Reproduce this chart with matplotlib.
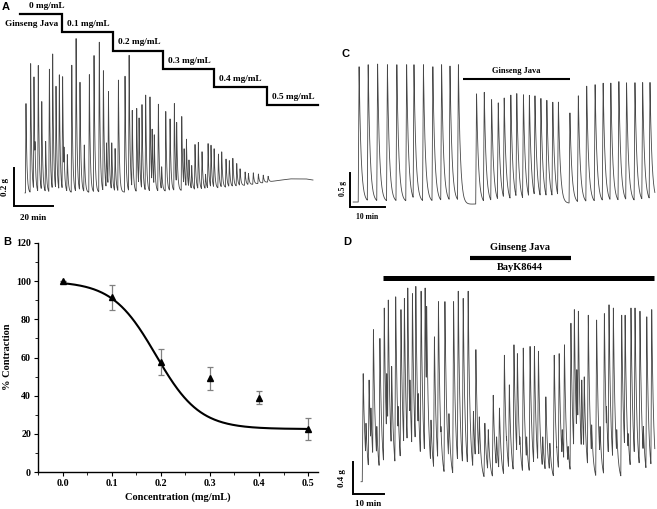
import numpy as np
import matplotlib
matplotlib.use("Agg")
import matplotlib.pyplot as plt
from matplotlib.ticker import MultipleLocator

# ---------------- data ----------------
# Panel A: spike times (min) and amplitudes (g)
A_times = [0.5, 2.9, 4.6, 5.1, 6.8, 8.6, 10.6, 12.5, 14.2, 15.9, 17.6, 19.3, 20.0, 21.7,
           24.0, 26.2, 28.2, 30.4, 33.0, 35.4, 38.1, 40.2, 41.8, 42.8, 44.5, 46.2, 47.9,
           51.3, 53.4, 55.0, 57.3, 58.5, 60.0, 61.9, 64.1, 65.2, 66.3, 68.4, 70.1, 72.2,
           74.4, 76.6, 77.8, 80.4, 81.6, 82.8, 84.1, 85.5, 87.2, 88.9,
           90.8, 92.6, 93.9, 95.4, 97.0, 99.2, 100.9, 103.1, 104.8, 106.6, 108.6, 110.3,
           112.9, 114.6, 117.1, 119.7, 122.2, 124.7]
A_heights = [0.47, 0.68, 0.61, 0.27, 0.67, 0.48, 0.27, 0.65, 0.73, 0.56, 0.62, 0.61, 0.24, 0.20,
             0.67, 0.81, 0.58, 0.25, 0.62, 0.72, 0.79, 0.64, 0.26, 0.53, 0.26, 0.23, 0.59,
             0.61, 0.72, 0.43, 0.44, 0.39, 0.46, 0.51, 0.50, 0.33, 0.30, 0.46, 0.13, 0.42,
             0.38, 0.46, 0.36, 0.39, 0.22, 0.27, 0.16, 0.13, 0.24, 0.25,
             0.20, 0.08, 0.24, 0.23, 0.21, 0.18, 0.19, 0.15, 0.14, 0.15, 0.12, 0.09,
             0.07, 0.06, 0.06, 0.05, 0.04, 0.03]
A_base_t = [0, 64, 90, 105, 118, 128, 136, 144, 147.7]
A_base_v = [0, 0.005, 0.016, 0.03, 0.047, 0.063, 0.074, 0.074, 0.068]
A_doses = ["0 mg/mL", "0.1 mg/mL", "0.2 mg/mL", "0.3 mg/mL", "0.4 mg/mL", "0.5 mg/mL"]
A_dose_times = [-2.6, 19.0, 45.1, 70.8, 97.0, 124.1, 150.3]

# Panel B: concentration-response
B_conc = [0.0, 0.1, 0.2, 0.3, 0.4, 0.5]
B_resp = [100, 91.5, 57.5, 49, 39, 22.5]
B_err = [0, 6.5, 6.75, 6, 3.25, 5.75]
B_fit_top, B_fit_bottom, B_fit_x0, B_fit_slope = 100.0, 22.5, 0.19, 0.0444

# Panel C
C_times = [2.6, 5.2, 7.9, 10.7, 13.4, 16.2, 18.3, 21.0, 23.7, 26.2, 28.6, 31.0,
           36.2, 38.4, 40.5, 42.4, 44.1, 46.0, 47.7, 49.6, 51.3, 52.9, 54.6, 56.3, 58.0, 59.6,
           62.9, 65.3, 67.7, 70.1, 72.4, 74.6, 76.9, 79.1, 81.5, 83.7, 85.8]
C_heights = [1.99, 2.02, 2.03, 2.02, 2.02, 2.02, 2.02, 2.02, 1.99, 2.02, 2.00, 2.02,
             1.62, 1.64, 1.53, 1.48, 1.55, 1.59, 1.61, 1.59, 1.58, 1.57, 1.53, 1.50, 1.47, 1.47,
             1.33, 1.58, 1.72, 1.74, 1.76, 1.76, 1.78, 1.76, 1.76, 1.76, 1.76]
C_base_t = [0.9, 31.0, 32.5, 35.5, 59.6, 61.0, 62.5, 87.2]
C_base_v = [0, 0, -0.04, -0.03, 0, -0.03, -0.02, 0]
C_ginseng = [32.3, 62.9]

# Panel D
D_times = [3.3, 4.2, 5.2, 5.8, 6.6, 7.7, 8.7, 10.1, 10.9, 11.4, 12.5, 13.8, 14.6, 15.5,
           16.6, 17.7, 18.4, 19.2, 20.3, 21.1, 22.0, 23.3, 23.8, 25.2, 26.3, 27.6, 28.4,
           29.7, 31.0, 32.5,
           34.0, 35.6, 37.2, 38.9, 39.7, 40.8, 42.6, 43.7, 45.3, 46.4, 47.3, 48.9, 49.6,
           50.5, 52.0, 53.1, 53.9, 55.0, 56.1, 57.2, 58.6, 59.9, 61.3, 62.3,
           63.6, 65.0, 65.8, 66.6, 67.6, 68.3, 69.5, 70.4, 71.5, 72.3, 72.8, 73.9, 74.7,
           76.0, 77.1, 78.7, 79.8, 81.2, 81.9, 82.7, 84.1, 85.2, 86.8, 87.9, 88.9, 89.8,
           91.1, 92.7, 93.8, 94.9, 96.5]
D_heights = [1.35, 0.73, 1.27, 0.92, 1.90, 0.69, 1.79, 2.17, 1.35, 2.27, 1.44, 2.31, 0.94, 2.15,
             2.29, 2.42, 1.27, 2.35, 2.44, 1.10, 2.38, 2.42, 2.19, 0.77, 1.81, 2.25, 0.69,
             2.25, 0.85, 2.25,
             2.38, 2.29, 2.38, 0.88, 1.65, 0.81, 0.73, 0.65, 1.08, 0.56, 0.92, 1.58, 0.56,
             1.21, 1.71, 1.60, 0.56, 1.67, 0.56, 1.69, 1.69, 1.63, 0.56, 1.06,
             0.48, 1.58, 0.44, 1.60, 0.65, 1.71, 0.44, 1.98, 2.15, 1.40, 2.13, 1.27, 1.31,
             2.08, 0.71, 2.02, 0.69, 2.10, 0.94, 2.21, 2.17, 0.65, 2.08, 2.08, 0.60, 2.17,
             2.17, 2.13, 0.69, 2.06, 2.15]
D_ginseng = [37.8, 70.4]
D_bayk = [9.7, 97.2]

# ---------------- helpers ----------------
W, H = 657, 509
fig = plt.figure(figsize=(W / 100, H / 100), dpi=100)
SERIF = ["Liberation Serif", "DejaVu Serif"]
SANS = ["Liberation Sans", "DejaVu Sans"]
TR = "#474747"


def fax(x0, y0, x1, y1):
    """axes from pixel box (left, top, right, bottom)"""
    return fig.add_axes([x0 / W, 1 - y1 / H, (x1 - x0) / W, (y1 - y0) / H])


def ftext(x, y, s, **kw):
    fig.text(x / W, 1 - y / H, s, **kw)


def trace(times, heights, t0, t1, bt, bv, rise, tau, dt=0.01):
    t = np.arange(t0, t1, dt)
    env = np.zeros_like(t)
    for ti, hi in zip(times, heights):
        d = t - ti
        p = np.zeros_like(t)
        up = (d < 0) & (d > -rise)
        p[up] = 1 + d[up] / rise
        dn = d >= 0
        p[dn] = np.exp(-d[dn] / tau)
        env = np.maximum(env, hi * p)
    return t, np.interp(t, bt, bv) + env


def scalebar(ax, x, y, dx, dy):
    ax.plot([x, x, x + dx], [y + dy, y, y], color="black", lw=1.4,
            solid_joinstyle="miter", clip_on=False)


# ---------------- Panel A ----------------
axA = fax(10, 0, 320, 215)
axA.set_xlim(-7.7, 151.3)
axA.set_ylim(-0.116, 1.015)
axA.axis("off")
t, y = trace(A_times, A_heights, 0, 147.7, A_base_t, A_base_v, 0.3, 0.45)
axA.plot(t, y, color=TR, lw=0.6)
scalebar(axA, -5.6, -0.068, 20, 0.2)
step_top, step_dy = 0.94, 0.0955
sx, sy = [], []
for i in range(len(A_doses)):
    lev = step_top - i * step_dy
    sx += [A_dose_times[i], A_dose_times[i + 1]]
    sy += [lev, lev]
axA.plot(sx, sy, color="black", lw=1.6, solid_joinstyle="miter", clip_on=False)
for i, lab in enumerate(A_doses):
    lev = step_top - i * step_dy
    xx = 0.0 if i == 0 else A_dose_times[i]
    axA.annotate(lab, (xx, lev), xytext=(3.5 if i else 3, 3), textcoords="offset points",
                 fontsize=6.7, fontweight="bold", family=SERIF, ha="left", va="bottom")
axA.annotate("Ginseng Java", (A_dose_times[1], step_top), xytext=(-3, -4),
             textcoords="offset points", fontsize=6.7, fontweight="bold",
             family=SERIF, ha="right", va="top")
ftext(5, 187, "0.2 g", rotation=90, fontsize=6.5, fontweight="bold", family=SERIF,
      ha="center", va="center")
ftext(33, 218, "20 min", fontsize=6.5, fontweight="bold", family=SERIF,
      ha="center", va="center")
ftext(2, 7, "A", fontsize=8, fontweight="bold", family=SANS, ha="left", va="center")

# ---------------- Panel B ----------------
axB = fax(38, 243, 318, 472)
xs = np.linspace(0, 0.5, 300)
fit = B_fit_bottom + (B_fit_top - B_fit_bottom) / (1 + np.exp((xs - B_fit_x0) / B_fit_slope))
axB.plot(xs, fit, color="black", lw=1.5)
axB.errorbar(B_conc, B_resp, yerr=B_err, fmt="none", ecolor="#808080", elinewidth=0.9,
             capsize=2.5, capthick=0.9)
axB.plot(B_conc, B_resp, "^", color="black", markersize=4.5)
for s in ["top", "right"]:
    axB.spines[s].set_visible(False)
for s in ["left", "bottom"]:
    axB.spines[s].set_linewidth(1.0)
axB.xaxis.set_minor_locator(MultipleLocator(0.05))
axB.yaxis.set_major_locator(MultipleLocator(20))
axB.yaxis.set_minor_locator(MultipleLocator(10))
axB.tick_params(which="major", direction="out", length=3, width=0.8, labelsize=7.2, pad=2)
axB.tick_params(which="minor", direction="out", length=2, width=0.6)
axB.set_xticks(B_conc)
axB.set_xticklabels([f"{v:.1f}" for v in B_conc])
for lab in axB.get_xticklabels() + axB.get_yticklabels():
    lab.set_fontfamily(SERIF)
    lab.set_fontweight("bold")
axB.set_xlim(-0.05, 0.52)
axB.set_ylim(0, 120)
ftext(8, 357, "% Contraction", rotation=90, fontsize=7.5, fontweight="bold", family=SERIF,
      ha="center", va="center")
ftext(178, 497, "Concentration (mg/mL)", fontsize=7.5, fontweight="bold", family=SERIF,
      ha="center", va="center")
ftext(3, 242, "B", fontsize=8, fontweight="bold", family=SANS, ha="left", va="center")

# ---------------- Panel C ----------------
axC = fax(345, 45, 657, 215)
axC.set_xlim(-1.43, 87.8)
axC.set_ylim(-0.191, 2.31)
axC.axis("off")
t, y = trace(C_times, C_heights, 0.9, 87.2, C_base_t, C_base_v, 0.25, 0.55)
axC.plot(t, y, color=TR, lw=0.6)
scalebar(axC, 0, -0.074, 10, 0.5)
axC.plot(C_ginseng, [1.81, 1.81], color="black", lw=1.5, solid_capstyle="butt")
axC.text(np.mean(C_ginseng), 1.87, "Ginseng Java", fontsize=6, fontweight="bold",
         family=SERIF, ha="center", va="bottom")
ftext(343, 189, "0.5 g", rotation=90, fontsize=5.5, fontweight="bold", family=SERIF,
      ha="center", va="center")
ftext(367, 217, "10 min", fontsize=5.5, fontweight="bold", family=SERIF,
      ha="center", va="center")
ftext(341, 54, "C", fontsize=8, fontweight="bold", family=SANS, ha="left", va="center")

# ---------------- Panel D ----------------
axD = fax(345, 240, 657, 509)
axD.set_xlim(-2.58, 98.2)
axD.set_ylim(-0.341, 3.02)
axD.axis("off")
t, y = trace(D_times, D_heights, 2.6, 97.5, [0, 100], [0, 0], 0.3, 0.6)
axD.plot(t, y, color=TR, lw=0.6)
scalebar(axD, 0, -0.154, 10, 0.4)
axD.plot(D_ginseng, [2.80, 2.80], color="black", lw=3.0, solid_capstyle="butt")
axD.plot(D_bayk, [2.55, 2.55], color="black", lw=3.6, solid_capstyle="butt")
axD.text(np.mean(D_ginseng), 2.87, "Ginseng Java", fontsize=7.5, fontweight="bold",
         family=SERIF, ha="center", va="bottom")
axD.text(53.9, 2.62, "BayK8644", fontsize=7.5, fontweight="bold",
         family=SERIF, ha="center", va="bottom")
ftext(342, 478, "0.4 g", rotation=90, fontsize=6.5, fontweight="bold", family=SERIF,
      ha="center", va="center")
ftext(368, 504, "10 min", fontsize=6.5, fontweight="bold", family=SERIF,
      ha="center", va="center")
ftext(343, 242, "D", fontsize=8, fontweight="bold", family=SANS, ha="left", va="center")

fig.savefig("out.png", dpi=100)
